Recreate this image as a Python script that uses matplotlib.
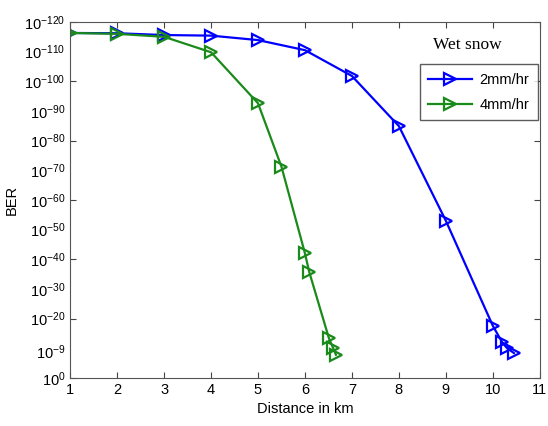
import matplotlib.pyplot as plt
from matplotlib.ticker import FixedLocator

plt.rcParams['font.family'] = ['Liberation Sans', 'DejaVu Sans']
plt.rcParams['mathtext.fontset'] = 'custom'
plt.rcParams['mathtext.rm'] = 'Liberation Sans'
plt.rcParams['mathtext.it'] = 'Liberation Sans'

# y values are -log10(BER)
dist_2mm = [1, 2, 3, 4, 5, 6, 7, 8, 9, 10, 10.2, 10.3, 10.45]
ber_2mm = [116.3, 116.2, 115.6, 115.4, 113.9, 110.5, 101.8, 84.9, 53.0, 17.6, 12.0, 10.1, 8.4]

dist_4mm = [1, 2, 3, 4, 5, 5.5, 6.0, 6.09, 6.51, 6.6, 6.66]
ber_4mm = [116.3, 116.0, 115.0, 109.8, 92.6, 71.2, 42.0, 35.8, 13.4, 10.1, 7.8]

major_exp = [0, 20, 40, 60, 80, 100, 120]
minor_exp = [9, 30, 50, 70, 90, 110]

fig = plt.figure(figsize=(5.48, 4.26), dpi=100)
ax = fig.add_axes([0.128, 0.1127, 0.857, 0.8357])

ax.plot(dist_2mm, ber_2mm, color='#0000ff', lw=1.6, marker='>', ms=8.5,
        mfc='none', mew=1.6, label='2mm/hr')
ax.plot(dist_4mm, ber_4mm, color='#1a8a1a', lw=1.6, marker='>', ms=8.5,
        mfc='none', mew=1.6, label='4mm/hr')

ax.set_xlim(1, 11)
ax.set_ylim(0, 120)
ax.set_xticks(range(1, 12))

ax.yaxis.set_major_locator(FixedLocator(major_exp))
ax.yaxis.set_minor_locator(FixedLocator(minor_exp))
ax.set_yticklabels([r'$10^{%d}$' % -e if e else r'$10^{0}$' for e in major_exp])
ax.set_yticklabels([r'$10^{%d}$' % -e for e in minor_exp], minor=True)

ax.tick_params(axis='both', which='major', direction='in', length=4,
               top=True, right=True, labelsize=10.5, color='#444444')
ax.tick_params(axis='y', which='minor', length=0, labelsize=10.5)
for s in ax.spines.values():
    s.set_color('#555555')

ax.set_xlabel('Distance in km', fontsize=10.5)
ax.set_ylabel('BER', fontsize=10.5, labelpad=4)

ax.text(0.845, 0.935, 'Wet snow', transform=ax.transAxes, ha='center',
        va='center', fontsize=12.5, family='Liberation Serif')
leg = ax.legend(loc='upper right', bbox_to_anchor=(0.996, 0.882),
                fancybox=False, edgecolor='#333333', fontsize=10.5,
                handlelength=3.0, labelspacing=0.75, borderpad=0.6,
                handletextpad=0.5, borderaxespad=0)
leg.get_frame().set_linewidth(1.0)

plt.savefig('out.png', dpi=100)
